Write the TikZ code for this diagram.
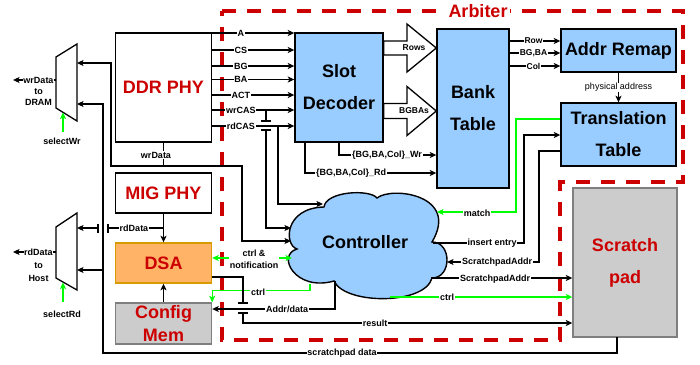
\documentclass[tikz,border=0pt]{standalone}
\usepackage{fontspec}
\setmainfont{Liberation Sans}
\usetikzlibrary{arrows.meta}

\definecolor{boxblue}{HTML}{99CCFF}
\definecolor{arbred}{HTML}{CC0000}
\definecolor{dsafill}{HTML}{FFB366}
\definecolor{dsaedge}{HTML}{D79B00}
\definecolor{memfill}{HTML}{CCCCCC}
\definecolor{memedge}{HTML}{7F7F7F}
\definecolor{ctlgreen}{HTML}{00FF00}

\tikzset{
  unit/.style={draw, line width=1.4pt, align=center, inner sep=0pt,
    font=\bfseries\fontsize{18}{32}\selectfont},
  blueunit/.style={unit, fill=boxblue},
  phyunit/.style={unit, fill=white, text=arbred},
  wire/.style={line width=1.3pt},
  tip/.style={-{Stealth[length=6.5pt,width=6pt,inset=1.5pt]}},
  arr/.style={wire, tip},
  garr/.style={arr, draw=ctlgreen, color=ctlgreen},
  gwire/.style={wire, draw=ctlgreen},
  sig/.style={fill=white, inner sep=0.8pt, font=\bfseries\fontsize{9}{11}\selectfont},
  sigsm/.style={fill=white, inner sep=0.6pt, font=\bfseries\fontsize{8.5}{10}\selectfont},
  plainlbl/.style={fill=white, inner sep=0.8pt, font=\fontsize{9}{11}\selectfont},
  bridge/.style={line width=1.3pt},
  muxshape/.style={draw, line width=1.3pt, fill=white},
  arbline/.style={draw=arbred, line width=4pt, dash pattern=on 14pt off 11pt},
}

\begin{document}
\begin{tikzpicture}[x=1pt,y=-1pt]
\fill[white] (0,0) rectangle (700,364);
\useasboundingbox (0,0) rectangle (700,364);

% ---- arbiter region ----
\draw[arbline] (222,11) -- (683,11) -- (683,182) -- (560,182) -- (560,340) -- (222,340) -- cycle;
\node[fill=white, inner sep=2pt, text=arbred, font=\bfseries\fontsize{18}{20}\selectfont] (arbiter) at (478,11) {Arbiter};

% ---- blocks ----
\node[phyunit, minimum width=96pt, minimum height=109pt] (ddr) at (163.5,87.5) {DDR PHY};
\node[phyunit, minimum width=96pt, minimum height=40pt] (mig) at (163.5,193) {MIG PHY};
\node[unit, fill=dsafill, draw=dsaedge, text=arbred, minimum width=96pt, minimum height=40pt] (dsa) at (163.5,263) {DSA};
\node[unit, fill=memfill, draw=memedge, text=arbred, font=\bfseries\fontsize{18}{23}\selectfont,
      minimum width=96pt, minimum height=41pt] (cfg) at (163.5,323.5) {Config\\Mem};
\node[blueunit, minimum width=88pt, minimum height=109pt] (slot) at (339,87.5) {Slot\\Decoder};
\node[blueunit, minimum width=72pt, minimum height=159pt] (bank) at (473,108.5) {Bank\\Table};
\node[blueunit, minimum width=115pt, minimum height=43pt] (remap) at (618.5,50.5) {Addr Remap};
\node[blueunit, minimum width=115pt, minimum height=63pt] (trans) at (618.5,134.5) {Translation\\Table};
\node[unit, fill=memfill, draw=memedge, text=arbred, minimum width=104pt, minimum height=149pt] (spad) at (625,262.5) {Scratch\\pad};

% ---- controller cloud ----
\draw[line width=1.4pt, fill=boxblue]
  (324,207) .. controls (326,191) and (370,189) .. (377,198)
  .. controls (392,186) and (460,195) .. (432,242)
  .. controls (452,242) and (452,278) .. (432,278)
  .. controls (425,305) and (345,305) .. (334,281)
  .. controls (295,292) and (276,255) .. (297,249)
  .. controls (284,245) and (284,208) .. (324,207) -- cycle;
\node[font=\bfseries\fontsize{18}{20}\selectfont] (ctrl) at (365,242) {Controller};
\coordinate (c-rdcas) at (323,204);
\coordinate (c-wrcas) at (291,228);
\coordinate (c-wrdata) at (291,241);
\coordinate (c-notif) at (292,258);
\coordinate (c-match) at (437,212);
\coordinate (c-ins) at (433,243);
\coordinate (c-spa) at (447,262);
\coordinate (c-spb) at (431,278);
\coordinate (c-gctrl) at (390,297);
\coordinate (c-gleft) at (310,284);
\coordinate (c-addr) at (335,281);

% ---- multiplexers ----
\draw[muxshape] (56,57) -- (77,44) -- (77,121) -- (56,108) -- cycle;
\draw[muxshape] (56,227) -- (77,213) -- (77,290) -- (56,278) -- cycle;
\coordinate (wrm-out) at (56,80);
\coordinate (wrm-in1) at (77,63);
\coordinate (wrm-in2) at (77,104);
\coordinate (wrm-sel) at (63,112.5);
\coordinate (rdm-out) at (56,252);
\coordinate (rdm-in1) at (77,228);
\coordinate (rdm-in2) at (77,270);
\coordinate (rdm-sel) at (63,282.5);
\coordinate (wr-dest) at (13,80);
\coordinate (rd-dest) at (13,252);
\coordinate (wrsel-src) at (63,132);
\coordinate (rdsel-src) at (63,302);

\draw[arr] (wrm-out) -- (wr-dest);
\draw[arr] (rdm-out) -- (rd-dest);
\node[fill=white, inner sep=0.5pt, align=center, font=\bfseries\fontsize{9}{11}\selectfont] (wrlbl) at (38.5,91.5) {wrData\\to\\DRAM};
\node[fill=white, inner sep=0.5pt, align=center, font=\bfseries\fontsize{9}{13}\selectfont] (rdlbl) at (38.5,265) {rdData\\to\\Host};
\draw[garr] (wrsel-src) -- (wrm-sel);
\draw[garr] (rdsel-src) -- (rdm-sel);
\node[font=\bfseries\fontsize{9}{11}\selectfont] (selwr) at (62,141) {selectWr};
\node[font=\bfseries\fontsize{9}{11}\selectfont] (selrd) at (62,314) {selectRd};

% ---- DDR PHY command signals into the slot decoder ----
\foreach \y/\t in {33/A,50/CS,66/BG,79.5/BA,95/ACT,110/wrCAS,126/rdCAS}{
  \draw[arr] (ddr.east |- 0,\y) -- node[sig, pos=0.35] {\t} (slot.west |- 0,\y);
}

% wrCAS tap, bridging over rdCAS, into the controller
\draw[wire] (266,110) -- (266,121);
\draw[bridge] (261,121) -- (271,121);
\draw[bridge] (261,130) -- (271,130);
\draw[arr] (266,130) |- (c-wrcas);
% rdCAS tap into the controller
\draw[arr] (278,126) |- (c-rdcas);

% ---- write data path ----
\coordinate (wrj) at (163.5,166);
\draw[wire] (ddr.south) -- (wrj);
\draw[arr] (wrj) -| (111,63) -- (wrm-in1);
\draw[arr] (wrj) -| (242,241) -- (c-wrdata);
\node[sig] (wrdatalbl) at (156,155) {wrData};

% ---- read data path ----
\coordinate (rdj) at (163.5,228);
\draw[arr] (mig.south) -- (dsa.north);
\draw[wire] (rdj) -- (108,228);
\draw[arr] (98,228) -- (rdm-in1);
\draw[bridge] (98,223.5) -- (98,232.5);
\draw[bridge] (108,223.5) -- (108,232.5);
\node[sig] (rddatalbl) at (134,228) {rdData};

% ---- scratchpad data back to both multiplexers ----
\coordinate (spd) at (617,337);
\draw[arr] (spd) |- (103,353) -- (103,104) -- (wrm-in2);
\draw[arr] (103,270) -- (rdm-in2);
\node[sig] (spdlbl) at (342,353) {scratchpad data};

% ---- DSA / config memory ----
\draw[arr] (cfg.north) -- (dsa.south);
\draw[garr, {Stealth[length=6.5pt,width=6pt,inset=1.5pt]}-{Stealth[length=6.5pt,width=6pt,inset=1.5pt]}] (dsa.east |- 0,258) -- (c-notif);
\node[sig, align=center, font=\bfseries\fontsize{9}{12}\selectfont] (notiflbl) at (254,259) {ctrl \&\\notification};
\draw[garr] (c-gleft) |- ([yshift=12pt]cfg.north east) -- (cfg.north east);
\node[sig] (ctrlA) at (258,292) {ctrl};
\draw[arr] (c-addr) |- (cfg.east |- 0,309);
\node[sig] (addrlbl) at (287,309) {Addr/data};
% result, bridging over Addr/data
\draw[wire] (dsa.east |- 0,277) -| (243,303);
\draw[bridge] (238,303) -- (248,303);
\draw[bridge] (238,313) -- (248,313);
\draw[arr] (243,313) |- (spad.west |- 0,323);
\node[sig] (reslbl) at (375,323) {result};

% ---- slot decoder to bank table ----
\draw[line width=1.3pt, fill=white] (slot.east |- 0,41) -- (407,41) -- (407,24) -- (bank.west |- 0,48)
  -- (407,72) -- (407,55) -- (slot.east |- 0,55) -- cycle;
\node[font=\bfseries\fontsize{8.5}{10}\selectfont] (rowslbl) at (414,48) {Rows};
\draw[line width=1.3pt, fill=white] (slot.east |- 0,103.5) -- (407,103.5) -- (407,86.5) -- (bank.west |- 0,111)
  -- (407,135.5) -- (407,118.5) -- (slot.east |- 0,118.5) -- cycle;
\node[font=\bfseries\fontsize{8.5}{10}\selectfont] (bgbalbl) at (414,111) {BGBAs};
\draw[arr] (339,142) |- (bank.west |- 0,155);
\node[sig] (wrlblb) at (387,155) {\{BG,BA,Col\}\_Wr};
\draw[arr] (305,142) |- (bank.west |- 0,173);
\node[sig] (rdlblb) at (351,173) {\{BG,BA,Col\}\_Rd};

% ---- bank table to address remap ----
\foreach \y/\t in {41/Row,53/{BG,BA},66/Col}{
  \draw[arr] (bank.east |- 0,\y) -- node[sigsm, pos=0.47] {\t} (remap.west |- 0,\y);
}
\draw[arr] (remap.south) -- node[plainlbl, pos=0.5] {physical address} (trans.north);

% ---- translation table and controller ----
\draw[garr] (trans.west |- 0,119) -| (516,212) -- (c-match);
\node[sig] (matchlbl) at (477,213) {match};
\draw[arr] (c-ins) -| (524,135) -- (trans.west |- 0,135);
\node[sig] (inslbl) at (492,243) {insert entry};
\draw[arr] (trans.west |- 0,151) -| (539,262) -- (c-spa);
\node[sig] (spalbl) at (497,262) {ScratchpadAddr};

% ---- controller to scratchpad ----
\draw[arr] (c-spb) -- (spad.west |- 0,278);
\node[sig] (spblbl) at (495,279) {ScratchpadAddr};
\draw[garr] (c-gctrl) -- (spad.west |- 0,297);
\node[sig] (ctrlB) at (447,297) {ctrl};
\end{tikzpicture}
\end{document}
